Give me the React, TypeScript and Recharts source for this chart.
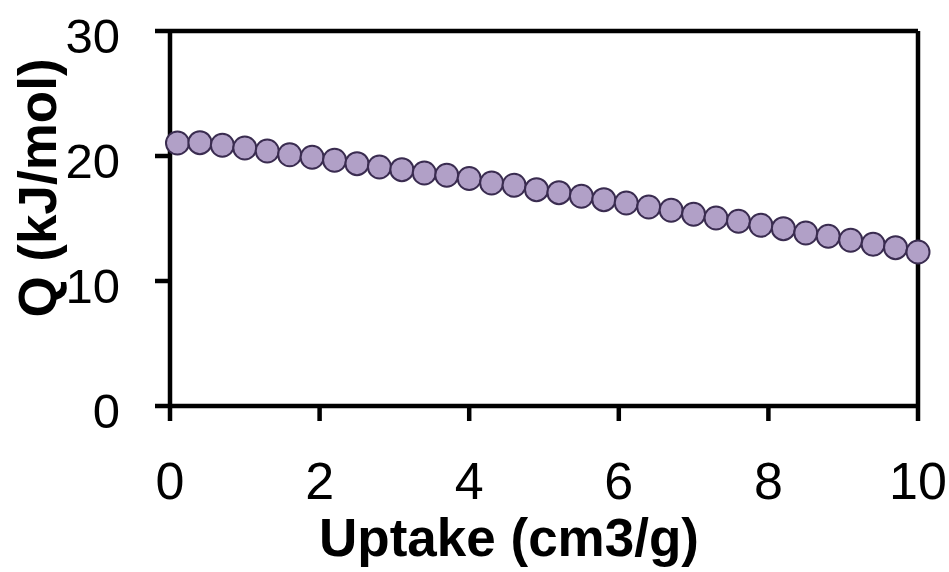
import { ScatterChart, Scatter, XAxis, YAxis, ReferenceLine } from "recharts";

// uptake (cm3/g) and isosteric heat Q (kJ/mol)
const uptake = [
  0.1, 0.4, 0.7, 1.0, 1.3, 1.6, 1.9, 2.2, 2.5, 2.8, 3.1, 3.4, 3.7, 4.0, 4.3, 4.6, 4.9,
  5.2, 5.5, 5.8, 6.1, 6.4, 6.7, 7.0, 7.3, 7.6, 7.9, 8.2, 8.5, 8.8, 9.1, 9.4, 9.7, 10.0,
];
const heat = [
  21.04, 21.07, 20.86, 20.64, 20.4, 20.1, 19.9, 19.66, 19.39, 19.12, 18.91, 18.64, 18.46, 18.2, 17.84, 17.66, 17.31,
  17.07, 16.78, 16.51, 16.24, 15.92, 15.66, 15.34, 15.04, 14.78, 14.46, 14.19, 13.84, 13.58, 13.26, 12.94, 12.67, 12.32,
];
const xTicks = [0, 2, 4, 6, 8, 10];
const yTicks = [0, 10, 20, 30];

const data = uptake.map((x, i) => ({ x, y: heat[i] }));

const FONT = "'Liberation Sans', Arial, sans-serif";
const AXIS = { stroke: "#000", strokeWidth: 4.5 };

const XTick = ({ x, y, payload }: any) => (
  <text x={x} y={y + 78} textAnchor="middle" fontFamily={FONT} fontSize={52} fill="#000">
    {payload.value}
  </text>
);

const YTick = ({ x, y, payload }: any) => (
  <text x={x - 35} y={y + 22} textAnchor="end" fontFamily={FONT} fontSize={49} fill="#000">
    {payload.value}
  </text>
);

const Dot = ({ cx, cy }: any) => (
  <circle cx={cx} cy={cy} r={11.5} fill="#b1a0c7" stroke="#3a2c50" strokeWidth={2} />
);

export default function App() {
  return (
    <div style={{ position: "absolute", left: 0, top: 0, background: "#fff" }}>
      <ScatterChart width={949} height={572} margin={{ top: 31, right: 31, bottom: 0, left: 0 }}>
        <XAxis
          type="number"
          dataKey="x"
          domain={[0, 10]}
          ticks={xTicks}
          axisLine={AXIS}
          tickLine={AXIS}
          tickSize={15}
          tickMargin={0}
          height={166}
          tick={<XTick />}
          label={{
            content: () => (
              <text x={509} y={556} textAnchor="middle" fontFamily={FONT} fontSize={53} fontWeight="bold" fill="#000">
                Uptake (cm3/g)
              </text>
            ),
          }}
        />
        <YAxis
          type="number"
          dataKey="y"
          domain={[0, 30]}
          ticks={yTicks}
          axisLine={AXIS}
          tickLine={AXIS}
          tickSize={15}
          tickMargin={0}
          width={170}
          tick={<YTick />}
          label={{
            content: () => (
              <text
                x={0}
                y={0}
                transform="translate(56 188) rotate(-90)"
                textAnchor="middle"
                fontFamily={FONT}
                fontSize={53}
                fontWeight="bold"
                fill="#000"
              >
                Q (kJ/mol)
              </text>
            ),
          }}
        />
        <ReferenceLine y={30} stroke="#000" strokeWidth={4.5} />
        <ReferenceLine x={10} stroke="#000" strokeWidth={4.5} />
        <Scatter data={data} shape={<Dot />} isAnimationActive={false} />
      </ScatterChart>
    </div>
  );
}
